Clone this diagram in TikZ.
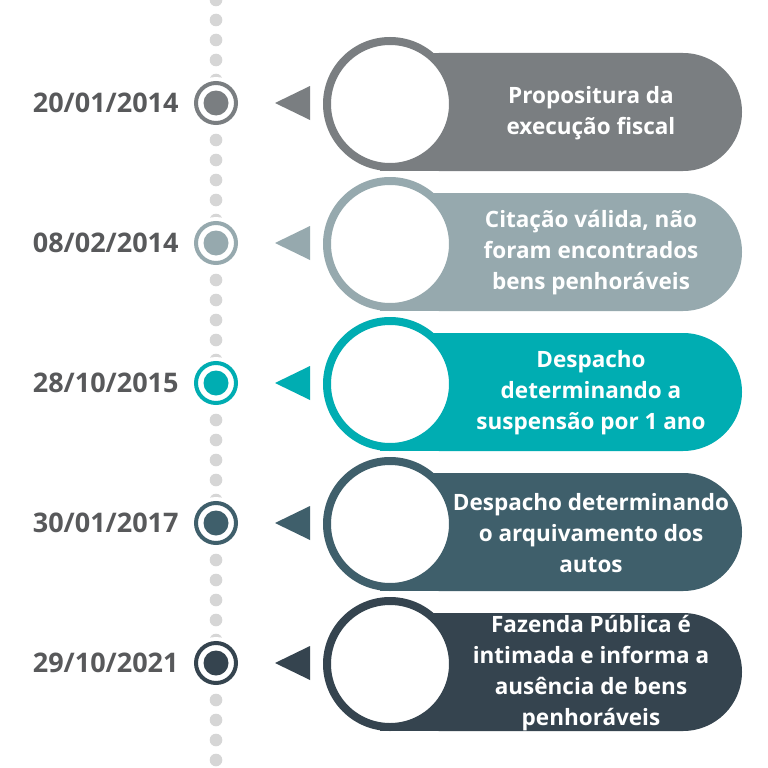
\documentclass[tikz,border=0pt]{standalone}
\usepackage{fontspec}
\setmainfont{Open Sans}
\begin{document}
\begin{tikzpicture}[x=1pt,y=-1pt,
  date/.style={anchor=east,font=\bfseries\fontsize{27}{30}\selectfont,text=datec},
  lbl/.style={align=center,text=white,font=\bfseries\fontsize{22.5}{31}\selectfont},
  dotc/.style={fill=dotgray,draw=none}]
\definecolor{datec}{HTML}{58595B}
\definecolor{dotgray}{HTML}{D6D6D6}
\definecolor{ca}{HTML}{7A7E81}
\definecolor{cb}{HTML}{96A9AE}
\definecolor{cc}{HTML}{00ADB2}
\definecolor{cd}{HTML}{3F5F6B}
\definecolor{ce}{HTML}{35444F}
\useasboundingbox (0,0) rectangle (768,768);
\clip (0,0) rectangle (768,768);
\fill[white] (0,0) rectangle (768,768);
\foreach \y in {0,20,...,780} \fill[dotgray] (216,\y) circle (6.3);
\foreach \i/\y/\c/\d/\t in {1/103/ca/20\slash 01\slash 2014/{Propositura da\\execução fiscal},
  2/243/cb/08\slash 02\slash 2014/{Citação válida, não\\foram encontrados\\bens penhoráveis},
  3/383/cc/28\slash 10\slash 2015/{Despacho\\determinando a\\suspensão por 1 ano},
  4/523/cd/30\slash 01\slash 2017/{Despacho determinando\\o arquivamento dos\\autos},
  5/663/ce/29\slash 10\slash 2021/{Fazenda Pública é\\intimada e informa a\\ausência de bens\\penhoráveis}}{
  \fill[white] (216,\y) circle (26);
  \draw[\c,line width=4pt] (216,\y) circle (20);
  \fill[\c] (216,\y) circle (12.5);
  \node[date] (d\i) at (182,\y) {\d};
  \fill[\c] (275,\y) -- (310,\y-17) -- (310,\y+17) -- cycle;
  \fill[\c,rounded corners=59pt] (380,\y-50) rectangle (742,\y+68);
  \fill[\c] (380,\y-50) rectangle (450,\y+68);
  \draw[\c,line width=8pt,fill=white] (390,\y+1) circle (63);
  \node[lbl] (t\i) at (591,\y+10) {\t};
}
\end{tikzpicture}
\end{document}
